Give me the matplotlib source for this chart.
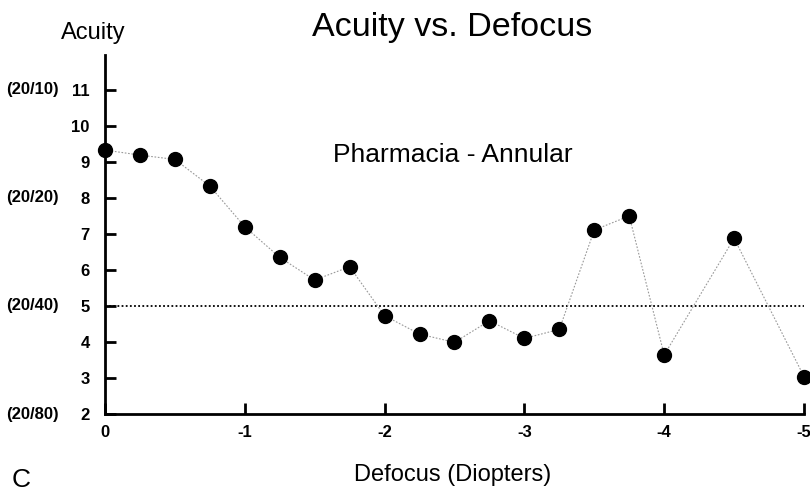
import matplotlib
matplotlib.use("Agg")
import matplotlib.pyplot as plt

plt.rcParams['font.family'] = ['Liberation Sans', 'DejaVu Sans']

defocus = [0, -0.25, -0.5, -0.75, -1, -1.25, -1.5, -1.75, -2, -2.25, -2.5,
           -2.75, -3, -3.25, -3.5, -3.75, -4, -4.5, -5]
acuity = [9.33, 9.19, 9.07, 8.33, 7.20, 6.35, 5.72, 6.09, 4.73, 4.22, 3.99,
          4.59, 4.10, 4.35, 7.11, 7.50, 3.64, 6.88, 3.04]
x_ticks = [0, -1, -2, -3, -4, -5]
y_ticks = [2, 3, 4, 5, 6, 7, 8, 9, 10, 11]
snellen_vals = [11, 8, 5, 2]
snellen_labels = ['(20/10)', '(20/20)', '(20/40)', '(20/80)']
reference_level = 5

fig = plt.figure(figsize=(8.1, 4.91), dpi=100)
ax = fig.add_axes([0.1296, 0.1568, 0.8630, 0.7312])

ax.plot(defocus, acuity, color='0.6', lw=0.8, linestyle=(0, (1.5, 1.5)), zorder=2)
ax.plot(defocus, acuity, 'o', color='black', markersize=10, zorder=3, clip_on=False)
ax.plot([0, -5], [reference_level, reference_level], color='black', lw=1.3,
        linestyle=(0, (1, 1.3)), zorder=1)

ax.set_xlim(0, -5)
ax.set_ylim(2, 11.97)
for s in ['top', 'right']:
    ax.spines[s].set_visible(False)
ax.spines['left'].set_linewidth(2)
ax.spines['bottom'].set_linewidth(2)

ax.set_xticks(x_ticks)
ax.set_xticklabels([str(v) for v in x_ticks], fontweight='bold', fontsize=12)
ax.set_yticks(y_ticks)
ax.set_yticklabels([str(v) for v in y_ticks], fontweight='bold', fontsize=12)
ax.tick_params(axis='both', direction='in', length=8, width=2)
ax.tick_params(axis='x', pad=8)
ax.tick_params(axis='y', pad=11)

for v, lab in zip(snellen_vals, snellen_labels):
    ax.text(-0.104, v, lab, transform=ax.get_yaxis_transform(), ha='center', va='center',
            fontsize=12, fontweight='bold')

fig.text(0.558, 0.945, 'Acuity vs. Defocus', ha='center', va='center', fontsize=24.5)
fig.text(0.115, 0.932, 'Acuity', ha='center', va='center', fontsize=17)
fig.text(0.559, 0.685, 'Pharmacia - Annular', ha='center', va='center', fontsize=19)
fig.text(0.559, 0.032, 'Defocus (Diopters)', ha='center', va='center', fontsize=17)
fig.text(0.026, 0.022, 'C', ha='center', va='center', fontsize=19)

fig.savefig('out.png', dpi=100)
